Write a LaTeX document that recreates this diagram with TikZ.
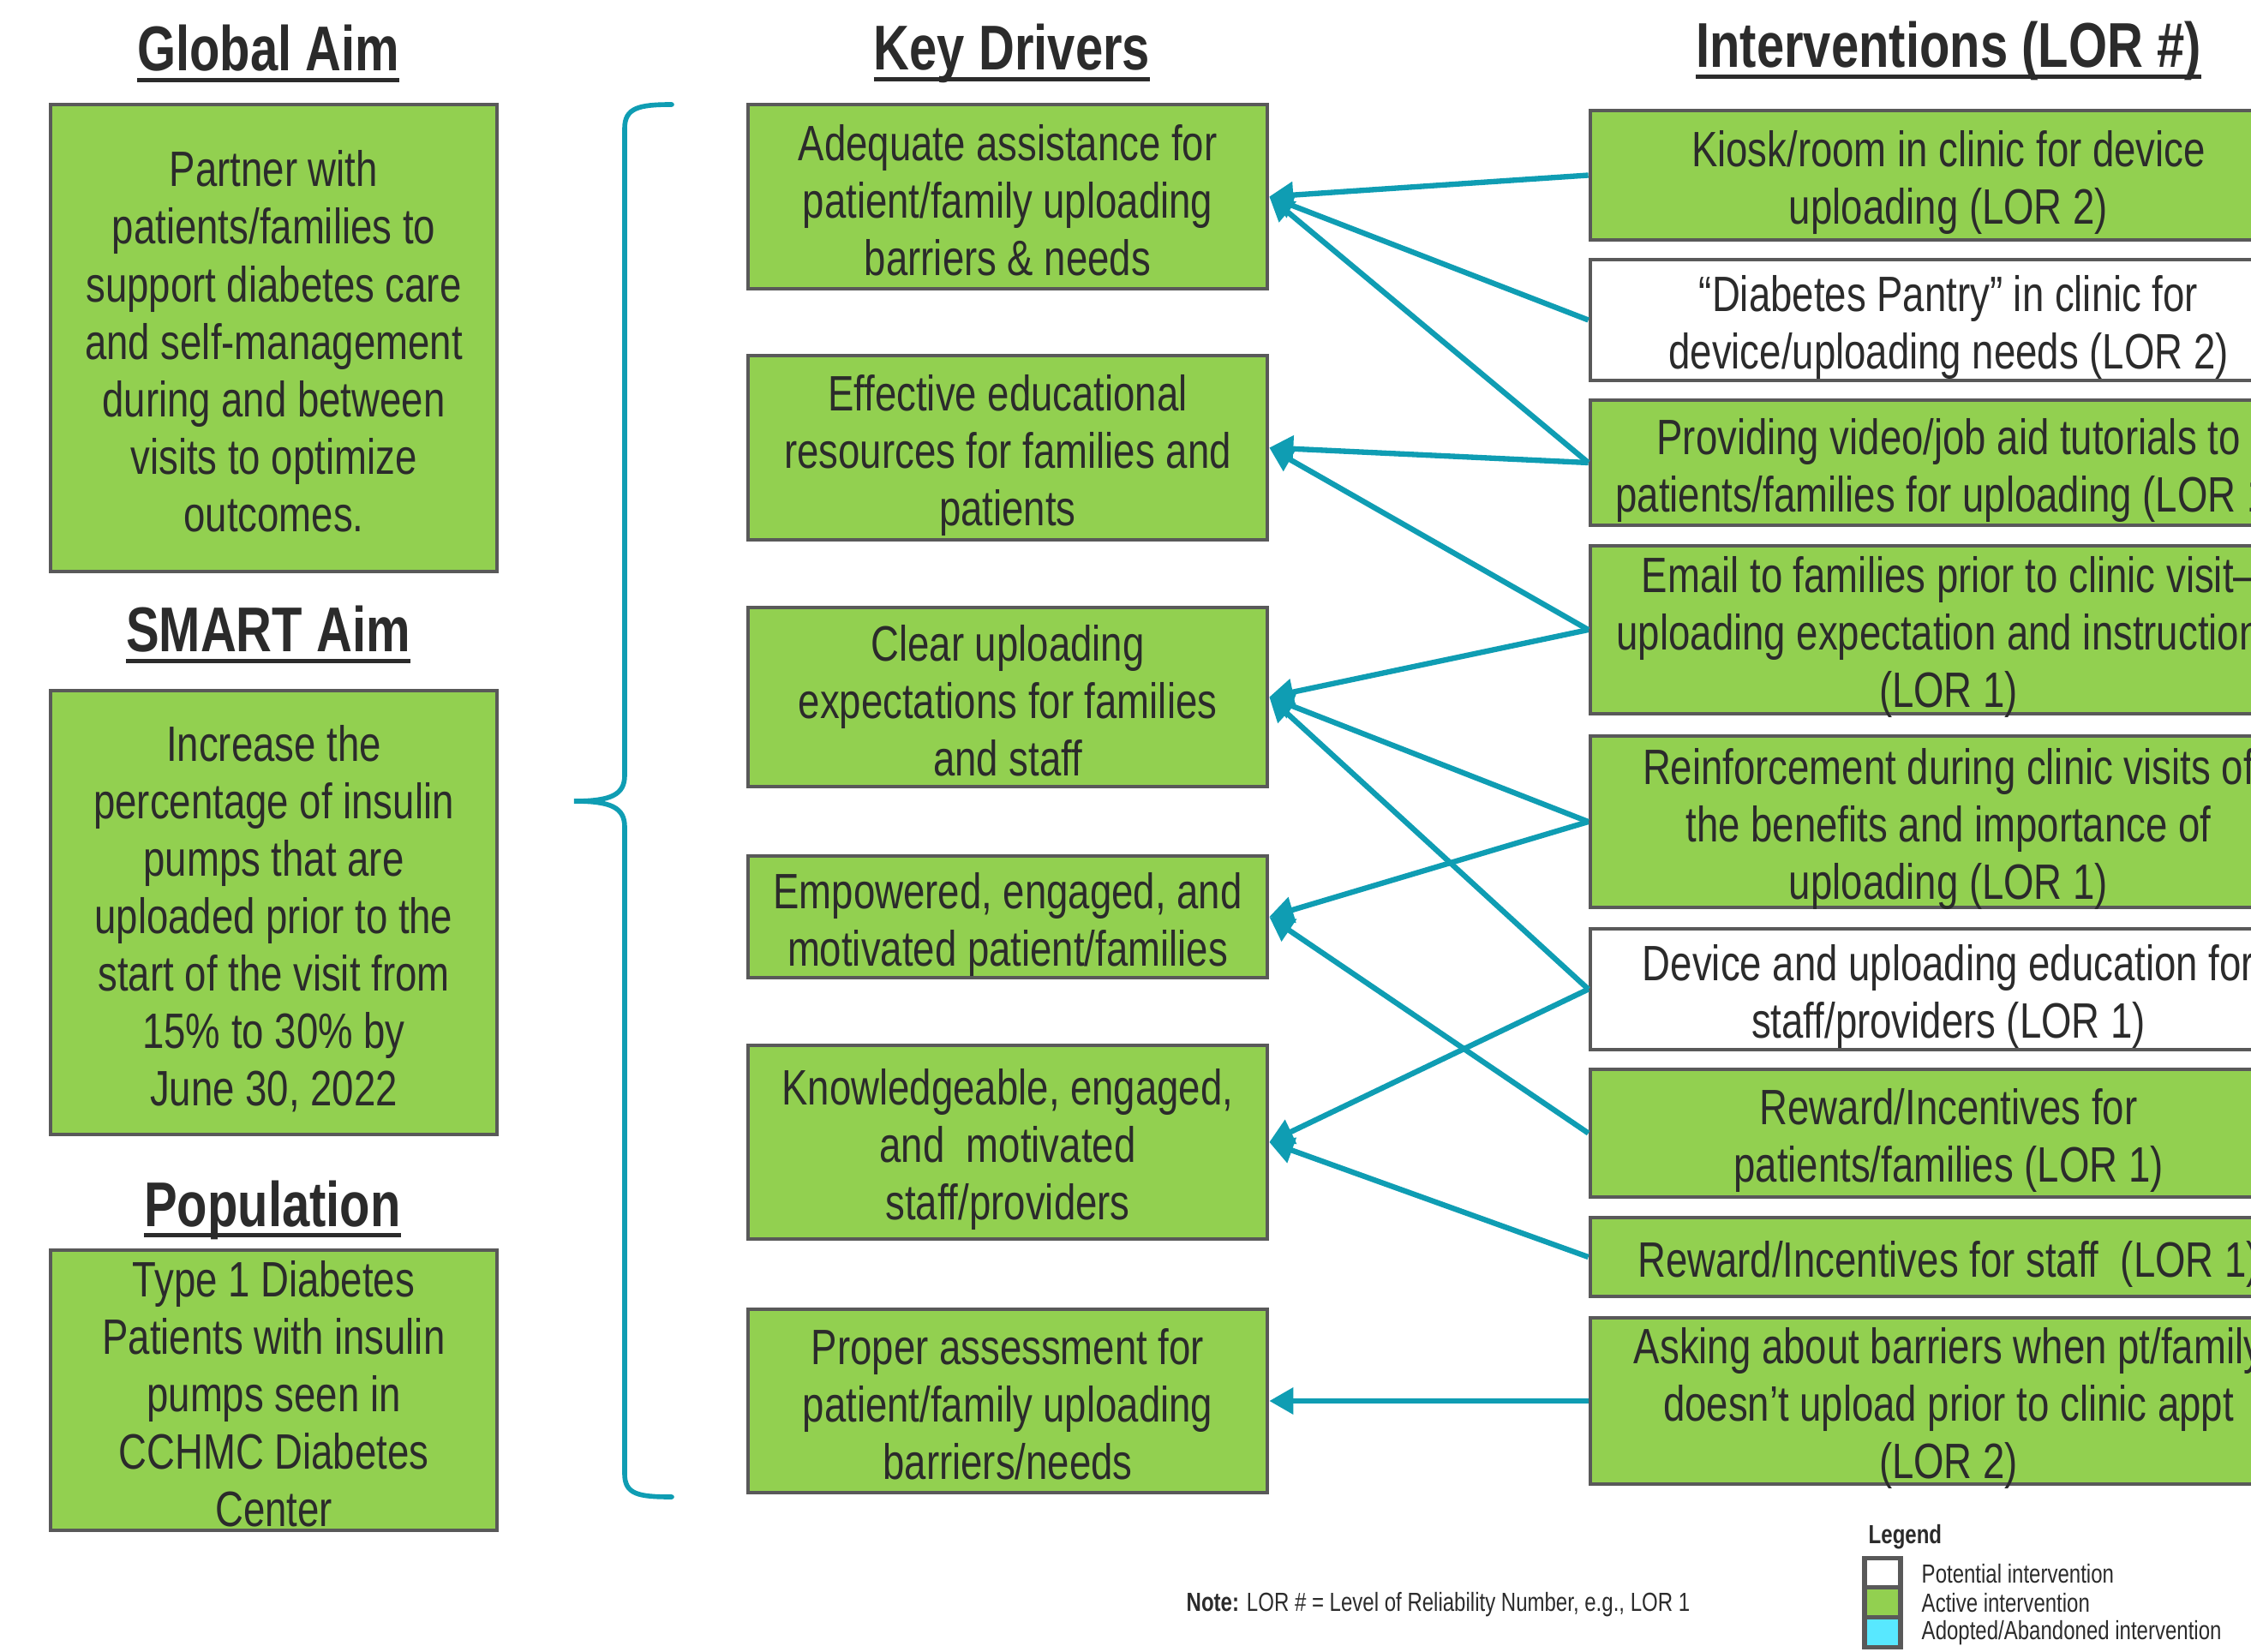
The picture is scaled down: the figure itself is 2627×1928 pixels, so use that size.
\documentclass[tikz,border=0pt]{standalone}
\usepackage{fontspec}
\setmainfont{Liberation Sans}[FakeStretch=0.785]
\usetikzlibrary{arrows.meta}
\definecolor{boxgreen}{HTML}{92D050}
\definecolor{bordergray}{HTML}{595959}
\definecolor{txtgray}{HTML}{2B2B2B}
\definecolor{arrteal}{HTML}{0F9DB3}
\definecolor{legcyan}{HTML}{58E8FF}
\newcommand{\bodyfnt}{\fontsize{16.5}{19.07}\selectfont}
\newcommand{\titlefnt}{\fontsize{21}{25}\selectfont\bfseries}
\newcommand{\smallfnt}{\fontsize{8.7}{10.5}\selectfont}
\newcommand{\ttl}[1]{\setbox0\hbox{#1}\rlap{\rule[-3.7pt]{\wd0}{1.3pt}}\box0}
\newcommand{\fs}{\rule{0pt}{17pt}}
\begin{document}
\begin{tikzpicture}[x=0.01cm,y=-0.01cm,
  box/.style={draw=bordergray, line width=1.2pt, fill=boxgreen, align=center,
    inner xsep=0pt, inner ysep=-14pt, text=txtgray, font=\bodyfnt,
    execute at end node={\rule[-3pt]{0pt}{0pt}}},
  wbox/.style={box, fill=white},
  lcol/.style={minimum width=5.21cm},
  dcol/.style={minimum width=6.06cm},
  icol/.style={minimum width=8.36cm},
  titlenode/.style={font=\titlefnt, text=txtgray, inner sep=0pt, anchor=base},
  arr/.style={draw=arrteal, line width=1.8pt, line join=round,
    -{Triangle[length=0.28cm,width=0.3cm]}},
  legsq/.style={draw=bordergray, line width=1.5pt, minimum width=0.42cm,
    minimum height=0.345cm, inner sep=0pt},
  legtxt/.style={anchor=west, font=\smallfnt, text=txtgray, inner sep=0pt}
]
\clip (0,0) rectangle (2627,1928);
\fill[white] (0,0) rectangle (2627,1928);

% titles
\node[titlenode] (tg) at (313,83) {\ttl{Global Aim}};
\node[titlenode] (ts) at (313,761) {\ttl{SMART Aim}};
\node[titlenode] (tp) at (318,1431) {\ttl{Population}};
\node[titlenode] (tk) at (1181,82) {\ttl{Key Drivers}};
\node[titlenode] (ti) at (2274,79) {\ttl{Interventions (LOR \#)}};

% left column
\node[box, lcol, minimum height=5.45cm] (g) at (319.5,394.5)
  {\fs Partner with\\patients/families to\\support diabetes care\\and self-management\\during and between\\visits to optimize\\outcomes.};
\node[box, lcol, minimum height=5.18cm] (s) at (319.5,1065)
  {\fs Increase the\\percentage of insulin\\pumps that are\\uploaded prior to the\\start of the visit from\\15\% to 30\% by\\June 30, 2022};
\node[box, lcol, minimum height=3.27cm] (p) at (319.5,1622.5)
  {\fs Type 1 Diabetes\\Patients with insulin\\pumps seen in\\CCHMC Diabetes\\Center};

% bracket
\draw[arrteal, line width=1.6pt, line cap=round]
  (784,122) .. controls (745,122) and (729,126) .. (729,150)
  -- (729,905) .. controls (729,928) and (712,935) .. (670,935)
  .. controls (712,935) and (729,942) .. (729,965)
  -- (729,1720) .. controls (729,1744) and (745,1747) .. (784,1747);

% key drivers
\node[box, dcol, minimum height=2.15cm] (d1) at (1176,229.5)
  {\fs Adequate assistance for\\patient/family uploading\\barriers \& needs};
\node[box, dcol, minimum height=2.15cm] (d2) at (1176,522.5)
  {\fs Effective educational\\resources for families and\\patients};
\node[box, dcol, minimum height=2.09cm] (d3) at (1176,813.5)
  {\fs Clear uploading\\expectations for families\\and staff};
\node[box, dcol, minimum height=1.42cm] (d4) at (1176,1070)
  {\fs Empowered, engaged, and\\motivated patient/families};
\node[box, dcol, minimum height=2.26cm] (d5) at (1176,1333)
  {\fs Knowledgeable, engaged,\\and\ \ motivated\\staff/providers};
\node[box, dcol, minimum height=2.14cm] (d6) at (1176,1635)
  {\fs Proper assessment for\\patient/family uploading\\barriers/needs};

% interventions
\node[box, icol, minimum height=1.51cm] (i1) at (2274,204.5)
  {\fs Kiosk/room in clinic for device\\uploading (LOR 2)};
\node[wbox, icol, minimum height=1.41cm] (i2) at (2274,373.5)
  {\fs “Diabetes Pantry” in clinic for\\device/uploading needs (LOR 2)};
\node[box, icol, minimum height=1.46cm] (i3) at (2274,540)
  {\fs Providing video/job aid tutorials to\\patients/families for uploading (LOR 1)};
\node[box, icol, minimum height=1.96cm] (i4) at (2274,735)
  {\fs Email to families prior to clinic visit–\\uploading expectation and instructions\\(LOR 1)};
\node[box, icol, minimum height=2.00cm] (i5) at (2274,959)
  {\fs Reinforcement during clinic visits of\\the benefits and importance of\\uploading (LOR 1)};
\node[wbox, icol, minimum height=1.41cm] (i6) at (2274,1154.5)
  {\fs Device and uploading education for\\staff/providers (LOR 1)};
\node[box, icol, minimum height=1.49cm] (i7) at (2274,1322.5)
  {\fs Reward/Incentives for\\patients/families (LOR 1)};
\node[box, icol, minimum height=0.92cm] (i8) at (2274,1467)
  {\fs Reward/Incentives for staff\ \ (LOR 1)};
\node[box, icol, minimum height=1.94cm] (i9) at (2274,1635)
  {\fs Asking about barriers when pt/family\\doesn’t upload prior to clinic appt\\(LOR 2)};

% connectors
\draw[arr] (i1.west) -- (d1.east);
\draw[arr] (i2.west) -- (d1.east);
\draw[arr] (i3.west) -- (d1.east);
\draw[arr] (i3.west) -- (d2.east);
\draw[arr] (i4.west) -- (d2.east);
\draw[arr] (i4.west) -- (d3.east);
\draw[arr] (i5.west) -- (d3.east);
\draw[arr] (i6.west) -- (d3.east);
\draw[arr] (i5.west) -- (d4.east);
\draw[arr] (i7.west) -- (d4.east);
\draw[arr] (i6.west) -- (d5.east);
\draw[arr] (i8.west) -- (d5.east);
\draw[arr] (i9.west) -- (d6.east);

% note
\node[legtxt] (note) at (1384,1873)
  {\textbf{Note:} LOR \# = Level of Reliability Number, e.g., LOR 1};

% legend
\node[legtxt, font=\smallfnt\bfseries] (leg) at (2180,1794) {Legend};
\node[legsq, fill=white] (l1) at (2197,1836) {};
\node[legsq, fill=boxgreen] (l2) at (2197,1870) {};
\node[legsq, fill=legcyan] (l3) at (2197,1905) {};
\node[legtxt] (lt1) at (2242,1837) {Potential intervention};
\node[legtxt] (lt2) at (2242,1871) {Active intervention};
\node[legtxt] (lt3) at (2242,1906) {Adopted/Abandoned intervention};
\end{tikzpicture}
\end{document}
